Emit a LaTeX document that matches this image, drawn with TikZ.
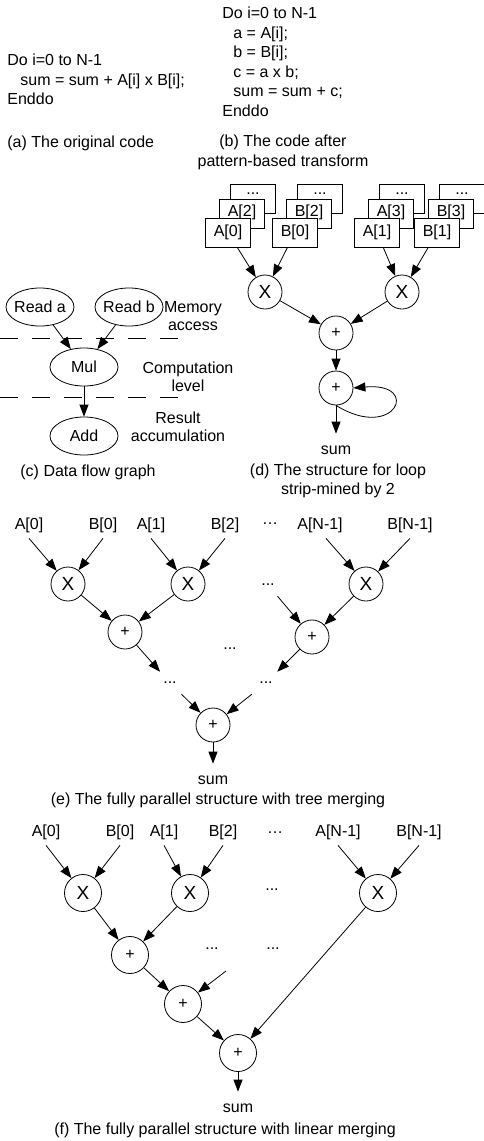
\documentclass[tikz,border=0pt]{standalone}
\usepackage{fontspec}
\setmainfont{Liberation Sans}
\usetikzlibrary{arrows.meta,shapes.geometric,positioning}

\begin{document}
\begin{tikzpicture}[x=1pt, y=-1pt, line width=0.8pt,
    font=\fontsize{16}{18.4}\selectfont,
    >={Triangle[length=12pt,width=9pt]},
    code/.style={align=left, inner sep=0pt, font=\fontsize{16}{19.5}\selectfont},
    op/.style={draw, circle, minimum size=34pt, inner sep=0pt},
    xop/.style={op, font=\fontsize{19}{20}\selectfont},
    big/.style={minimum size=37pt},
    mem/.style={draw, fill=white, minimum width=45pt, minimum height=29pt, inner sep=0pt},
    stage/.style={draw, ellipse, minimum width=68pt, minimum height=38pt, inner xsep=-3pt, inner ysep=0pt},
    inp/.style={inner xsep=0pt, inner ysep=5.5pt},
    gap/.style={inner sep=10pt},
    outp/.style={inner sep=0pt, outer ysep=12pt},
    divider/.style={dash pattern=on 18pt off 14pt}]

    \useasboundingbox (0,0) rectangle (483,1141);

    % (a) and (b): the two versions of the loop
    \node[code, anchor=west] (codeA) at (7,79.5)
        {Do i=0 to N-1\\\hspace*{13pt}sum = sum + A[i] x B[i];\\Enddo};
    \node[anchor=west, inner sep=0pt] (capA) at (7,143) {(a) The original code};

    \node[code, anchor=west] (codeB) at (222,62)
        {Do i=0 to N-1\\\hspace*{11pt}a = A[i];\\\hspace*{11pt}b = B[i];\\
         \hspace*{11pt}c = a x b;\\\hspace*{11pt}sum = sum + c;\\Enddo};
    \node[code, align=center] (capB) at (283,152.5) {(b) The code after\\pattern-based transform};

    % (c) data flow graph
    \node[stage] (rda) at (40,307) {Read a};
    \node[stage] (rdb) at (129,307) {Read b};
    \node[stage] (mul) at (84,367) {Mul};
    \node[stage] (add) at (84,436) {Add};
    \draw[divider] (0,338) -- (188,338);
    \draw[divider] (0,397) -- (188,397);
    \node[align=center, inner sep=0pt] (memlvl) at (193,316) {Memory\\access};
    \node[align=center, inner sep=0pt] (cmplvl) at (188,377) {Computation\\level};
    \node[align=center, inner sep=0pt] (acclvl) at (178,426.5) {Result\\accumulation};
    \draw[->] (rda) -- (mul);
    \draw[->] (rdb) -- (mul);
    \draw[->] (mul) -- (add);
    \node[inner sep=0pt] (capC) at (88,472) {(c) Data flow graph};

    % (d) strip-mined by 2: stacked memory banks
    \foreach \nm/\x/\tf/\tm in {a0/228/A[0]/A[2], b0/295/B[0]/B[2], a1/377/A[1]/A[3], b1/437/B[1]/B[3]}{
        \node[mem] (\nm back) at (\x+25,198.5) {};
        \node[anchor=base, inner sep=0pt] (\nm dots) at (\x+25,194) {...};
        \node[mem] (\nm mid) at (\x+14,213.5) {};
        \node[inner sep=0pt] (\nm midtxt) at (\x+14,212.5) {\tm};
        \node[mem] (\nm) at (\x,232.5) {\tf};
    }
    \node[xop] (x1) at (265,292) {X};
    \node[xop] (x2) at (402,292) {X};
    \node[op] (p1) at (336,333) {+};
    \node[op] (p2) at (336,388) {+};
    \node[outp] (sumD) at (336,450) {sum};
    \draw[->] (a0) -- (x1);
    \draw[->] (b0) -- (x1);
    \draw[->] (a1) -- (x2);
    \draw[->] (b1) -- (x2);
    \draw[->] (x1) -- (p1);
    \draw[->] (x2) -- (p1);
    \draw[->] (p1) -- (p2);
    \draw[->] (p2) -- (sumD);
    \draw[->] (p2.south) .. controls (395,442) and (422,382) .. (p2.east);
    \node[align=center, inner sep=0pt] (capD) at (338,481) {(d) The structure for loop\\strip-mined by 2};

    % (e) tree merging
    \foreach \nm/\x/\t in {ea0/29/A[0], eb0/103/B[0], ea1/151/A[1], eb2/225/B[2], ean/320/A[N-1], ebn/410/B[N-1]}
        \node[inp] (\nm) at (\x,525) {\t};
    \node[inner sep=0pt] (edots) at (270,524) {\ldots};
    \node[xop] (ex1) at (68,584) {X};
    \node[xop] (ex2) at (188,584) {X};
    \node[xop] (ex3) at (366,584) {X};
    \node[gap] (emid) at (268,585) {...};
    \node[op] (ep1) at (125,632) {+};
    \node[op] (ep2) at (312,637) {+};
    \node[op] (epf) at (213,725) {+};
    \node[inner sep=0pt] (ec) at (230,649) {...};
    \node[gap] (edl) at (170,683) {...};
    \node[gap] (edr) at (266,683) {...};
    \node[outp] (esum) at (213,780) {sum};
    \draw[->] (ea0.south) -- (ex1);
    \draw[->] (eb0.south) -- (ex1);
    \draw[->] (ea1.south) -- (ex2);
    \draw[->] (eb2.south) -- (ex2);
    \draw[->] ([xshift=6pt]ean.south) -- (ex3);
    \draw[->] (ebn.south) -- (ex3);
    \draw[->] (ex1) -- (ep1);
    \draw[->] (ex2) -- (ep1);
    \draw[->] (ex3) -- (ep2);
    \draw[->] (emid) -- (ep2);
    \draw[->] (ep1) -- (edl);
    \draw[->] (ep2) -- (edr);
    \draw[->] (edl) -- (epf);
    \draw[->] (edr) -- (epf);
    \draw[->] (epf) -- (esum);
    \node[inner sep=0pt] (capE) at (218,800) {(e) The fully parallel structure with tree merging};

    % (f) linear merging
    \foreach \nm/\x/\t in {fa0/46/A[0], fb0/120/B[0], fa1/164/A[1], fb2/223/B[2], fan/338/A[N-1], fbn/419/B[N-1]}
        \node[inp] (\nm) at (\x,832) {\t};
    \node[inner sep=0pt] (fdots) at (275,833) {\ldots};
    \node[xop, big] (fx1) at (83,893) {X};
    \node[xop, big] (fx2) at (190,893) {X};
    \node[xop, big] (fx3) at (378,893) {X};
    \node[inner sep=0pt] (fmid) at (272,890) {...};
    \node[op, big] (fp1) at (130,955) {+};
    \node[op, big] (fp2) at (183,1004) {+};
    \node[op, big] (fp3) at (238,1053) {+};
    \node[inner sep=0pt] (fd1) at (212,949) {...};
    \node[inner sep=0pt] (fd2) at (273,949) {...};
    \coordinate (fin) at (226,971);
    \node[outp] (fsum) at (238,1108) {sum};
    \draw[->] (fa0.south) -- (fx1);
    \draw[->] (fb0.south) -- (fx1);
    \draw[->] (fa1.south) -- (fx2);
    \draw[->] (fb2.south) -- (fx2);
    \draw[->] (fan.south) -- (fx3);
    \draw[->] (fbn.south) -- (fx3);
    \draw[->] (fx1) -- (fp1);
    \draw[->] (fx2) -- (fp1);
    \draw[->] (fp1) -- (fp2);
    \draw[->] (fin) -- (fp2);
    \draw[->] (fp2) -- (fp3);
    \draw[->] (fx3) -- (fp3);
    \draw[->] (fp3) -- (fsum);
    \node[inner sep=0pt] (capF) at (225,1130) {(f) The fully parallel structure with linear merging};

\end{tikzpicture}
\end{document}
